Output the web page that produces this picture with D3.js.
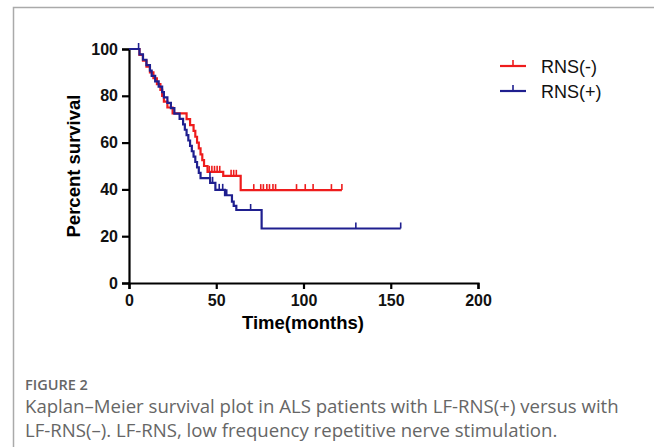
<!DOCTYPE html>
<html>
<head>
<meta charset="utf-8">
<script src="https://cdn.jsdelivr.net/npm/d3@7"></script>
<style>
  body { margin: 0; background: #fff; }
  svg { display: block; }
</style>
</head>
<body>
<svg id="chart" width="654" height="447"></svg>
<script>
// KM steps: [time in months, percent survival from that time on]
var rnsNeg = [[0,100],[6,97.5],[8,95],[10,92.5],[12,90],[14,87.5],[16,85],[18,82.5],[19,80],[20,77.5],[22,75],[25,72.5],
  [33,70],[35,67.5],[37,65],[38,62.5],[39,60],[40,57.5],[41,55],[42,52.5],[43,50],[45,47.5],[54,45.8],[64,39.7],[122,39.7]];
var rnsNegCensor = [46,47.5,49,50.5,52,58.5,60,61.5,71.5,75.5,77,79,80.5,82.5,84,96,101,105.5,116,122];

var rnsPos = [[0,100],[6,97.7],[8,95.4],[10,93.1],[12,90.8],[13,88.5],[15,86.2],[17,83.9],[19,81.6],[20,79.3],[22,77],[24,74.7],
  [26,72.4],[29,70.1],[31,67.8],[32,65.5],[33,63.2],[34,60.9],[35,58.6],[36,56.3],[37,54],[38,51.7],[39,49.4],[40,47.1],[41,44.8],
  [46.5,42.8],[49.5,39.8],[55,37.5],[59,34.8],[60,33],[61.5,31.2],[76,23.3],[155.7,23.3]];
var rnsPosCensor = [5.5,46.4,47.9,51.7,53.7,56,69.7,130,155.7];

var xTicks = [0,50,100,150,200];
var yTicks = [0,20,40,60,80,100];

var series = [
  {name: "RNS(-)", steps: rnsNeg, censor: rnsNegCensor, color: "#ee1c1c"},
  {name: "RNS(+)", steps: rnsPos, censor: rnsPosCensor, color: "#1f1f8f"}
];

var svg = d3.select("#chart");

// figure frame
svg.append("path")
  .attr("d", "M13.5,447 V7.5 H654")
  .attr("fill", "none").attr("stroke", "#aaa").attr("stroke-width", 1.5);

var x = d3.scaleLinear().domain([0,200]).range([129,478]);
var y = d3.scaleLinear().domain([0,100]).range([283,49]);

var font = "Liberation Sans, Arial, sans-serif";

var xAxis = svg.append("g")
  .attr("transform", "translate(0,283)")
  .call(d3.axisBottom(x).tickValues(xTicks).tickSize(6).tickPadding(6));
var yAxis = svg.append("g")
  .attr("transform", "translate(129,0)")
  .call(d3.axisLeft(y).tickValues(yTicks).tickSize(7).tickPadding(4));

[xAxis, yAxis].forEach(function(a){
  a.select(".domain").attr("stroke", "#000").attr("stroke-width", 2.2);
  a.selectAll(".tick line").attr("stroke", "#000").attr("stroke-width", 2.2);
  a.selectAll("text").attr("font-family", font).attr("font-weight", "bold")
    .attr("font-size", 16).attr("fill", "#111");
});

svg.append("text")
  .attr("x", 303).attr("y", 329)
  .attr("text-anchor", "middle")
  .attr("font-family", font).attr("font-weight", "bold").attr("font-size", 18.5)
  .text("Time(months)");

svg.append("text")
  .attr("transform", "translate(80,166) rotate(-90)")
  .attr("text-anchor", "middle")
  .attr("font-family", font).attr("font-weight", "bold").attr("font-size", 18.5)
  .text("Percent survival");

var line = d3.line()
  .x(function(d){ return x(d[0]); })
  .y(function(d){ return y(d[1]); })
  .curve(d3.curveStepAfter);

function survAt(steps, t){
  var s = steps[0][1];
  steps.forEach(function(d){ if (d[0] <= t) s = d[1]; });
  return s;
}

series.forEach(function(s){
  svg.append("path")
    .datum(s.steps)
    .attr("d", line)
    .attr("fill", "none")
    .attr("stroke", s.color)
    .attr("stroke-width", 2.2);

  svg.selectAll(null)
    .data(s.censor)
    .enter()
    .append("line")
    .attr("x1", function(t){ return x(t); })
    .attr("x2", function(t){ return x(t); })
    .attr("y1", function(t){ return y(survAt(s.steps, t)); })
    .attr("y2", function(t){ return y(survAt(s.steps, t)) - 6; })
    .attr("stroke", s.color)
    .attr("stroke-width", 1.6);
});

// legend
var legend = svg.append("g");
series.forEach(function(s, i){
  var ly = 66 + i * 25;
  legend.append("line")
    .attr("x1", 500).attr("x2", 526).attr("y1", ly).attr("y2", ly)
    .attr("stroke", s.color).attr("stroke-width", 2.2);
  legend.append("line")
    .attr("x1", 513).attr("x2", 513).attr("y1", ly).attr("y2", ly - 6)
    .attr("stroke", s.color).attr("stroke-width", 1.6);
  legend.append("text")
    .attr("x", 541).attr("y", ly + 7)
    .attr("font-family", font).attr("font-size", 18).attr("fill", "#111")
    .text(s.name);
});

// caption
var capFont = "Open Sans, Noto Sans, sans-serif";
svg.append("text")
  .attr("x", 25).attr("y", 390)
  .attr("font-family", capFont).attr("font-size", 14.5).attr("font-weight", 600).attr("fill", "#666")
  .text("FIGURE 2");
svg.append("text")
  .attr("x", 25).attr("y", 413)
  .attr("font-family", capFont).attr("font-size", 18.6).attr("fill", "#666")
  .text("Kaplan\u2013Meier survival plot in ALS patients with LF-RNS(+) versus with");
svg.append("text")
  .attr("x", 25).attr("y", 437)
  .attr("font-family", capFont).attr("font-size", 18.6).attr("fill", "#666")
  .text("LF-RNS(\u2013). LF-RNS, low frequency repetitive nerve stimulation.");
</script>
</body>
</html>
